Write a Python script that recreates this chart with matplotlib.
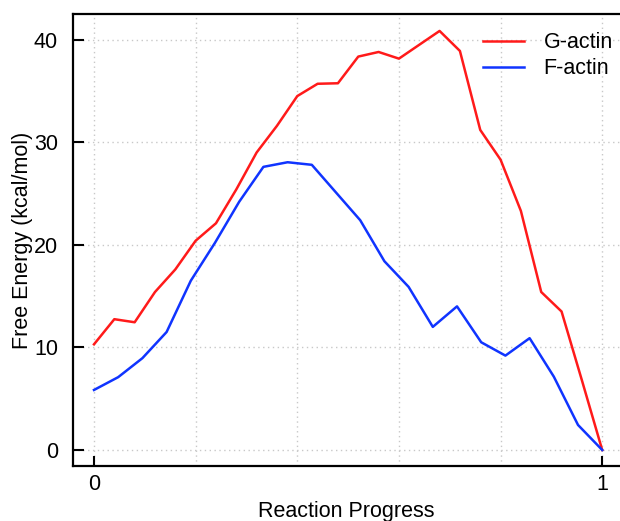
import matplotlib
matplotlib.use("Agg")
import matplotlib.pyplot as plt
import numpy as np

plt.rcParams['font.family'] = ['Liberation Sans', 'DejaVu Sans']

g_x = [i / 25 for i in range(26)]
g_actin = [10.3, 12.75, 12.45, 15.4, 17.6, 20.4, 22.1, 25.4, 29.0, 31.6,
           34.5, 35.7, 35.75, 38.35, 38.8, 38.15, 39.5, 40.85, 38.9, 31.2,
           28.3, 23.3, 15.4, 13.5, 6.8, 0.0]
f_x = [i / 21 for i in range(22)]
f_actin = [5.85, 7.1, 8.95, 11.5, 16.5, 20.2, 24.2, 27.6, 28.05, 27.8,
           25.1, 22.4, 18.4, 15.9, 12.0, 14.0, 10.5, 9.2, 10.9, 7.15,
           2.44, 0.0]
x_ticks = [0, 1]
x_minor = [0.2, 0.4, 0.6, 0.8]
y_ticks = [0, 10, 20, 30, 40]

fig = plt.figure(figsize=(6.2, 5.21), dpi=100)
ax = fig.add_axes([0.118, 0.1056, 0.882, 0.8675])

ax.plot(g_x, g_actin, color='#ff1a1a', lw=1.8, label='G-actin')
ax.plot(f_x, f_actin, color='#1034ff', lw=1.8, label='F-actin')

ax.set_xlim(-0.041, 1.035)
ax.set_ylim(-1.56, 42.5)
ax.set_xticks(x_ticks)
ax.set_xticklabels(['0', '1'])
ax.set_xticks(x_minor, minor=True)
ax.set_yticks(y_ticks)

ax.grid(True, which='both', color='#c8c8c8', linestyle=(0, (1, 2.5)), lw=1.0)
ax.set_axisbelow(True)

ax.tick_params(axis='x', which='major', direction='in', length=7, width=1.5,
               labelsize=15.5, pad=6)
ax.tick_params(axis='x', which='minor', length=0)
ax.tick_params(axis='y', which='major', direction='in', length=8, width=1.5,
               labelsize=15.5, pad=11)

for side in ['left', 'bottom', 'top']:
    ax.spines[side].set_linewidth(1.6)
ax.spines['right'].set_visible(False)

ax.set_xlabel('Reaction Progress', fontsize=15.5, labelpad=4)
ax.set_ylabel('Free Energy (kcal/mol)', fontsize=15.5)
ax.yaxis.set_label_coords(-0.073, 0.5)

ax.legend(loc='upper right', frameon=False, fontsize=15.5, handlelength=1.9,
          handletextpad=0.9, labelspacing=0.25, borderaxespad=0.3,
          bbox_to_anchor=(1.0146, 0.9934))

fig.savefig('out.png', dpi=100)
